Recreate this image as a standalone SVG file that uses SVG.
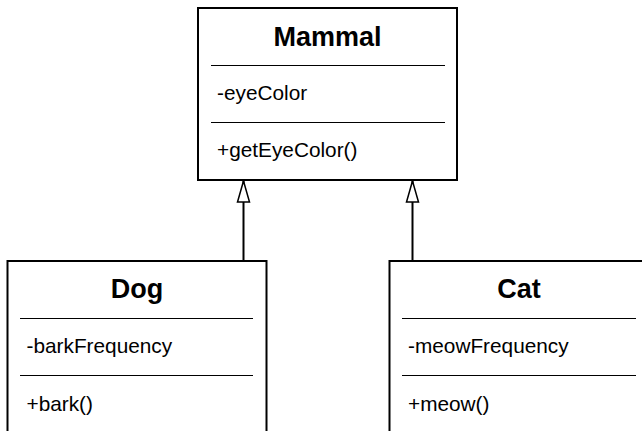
<svg xmlns="http://www.w3.org/2000/svg" width="642" height="431" viewBox="0 0 642 431">
  <style>
    .box { fill: #ffffff; stroke: #000000; stroke-width: 2; }
    .sep { stroke: #000000; stroke-width: 1; }
    .title { font-family: "Liberation Sans", Arial, sans-serif; font-size: 27px; font-weight: bold; fill: #000000; text-anchor: middle; }
    .member { font-family: "Liberation Sans", Arial, sans-serif; font-size: 20.8px; fill: #000000; }
    .edge { stroke: #000000; stroke-width: 2; fill: none; }
  </style>
  <defs>
    <marker id="inherit" markerUnits="userSpaceOnUse" viewBox="-23 -8 25 16" refX="0" refY="0" markerWidth="25" markerHeight="16" orient="auto">
      <path d="M0,0 L-21,-6 L-21,6 Z" fill="#ffffff" stroke="#000000" stroke-width="1.5" stroke-linejoin="miter"/>
    </marker>
  </defs>
  <rect width="642" height="431" fill="#ffffff"/>

  <g id="connectors">
    <line class="edge" x1="243.5" y1="261" x2="243.5" y2="181" marker-end="url(#inherit)"/>
    <line class="edge" x1="412.5" y1="261" x2="412.5" y2="181" marker-end="url(#inherit)"/>
  </g>

  <g id="Mammal">
    <rect class="box" x="198" y="8" width="259" height="172"/>
    <text class="title" x="327.5" y="46">Mammal</text>
    <line class="sep" x1="211" y1="65.5" x2="445" y2="65.5"/>
    <text class="member" x="217" y="100">-eyeColor</text>
    <line class="sep" x1="211" y1="122.5" x2="445" y2="122.5"/>
    <text class="member" x="217" y="157">+getEyeColor()</text>
  </g>

  <g id="Dog">
    <rect class="box" x="7.5" y="261" width="259" height="200"/>
    <text class="title" x="137" y="297.5">Dog</text>
    <line class="sep" x1="20" y1="318.5" x2="253" y2="318.5"/>
    <text class="member" x="26.5" y="353">-barkFrequency</text>
    <line class="sep" x1="20" y1="375.5" x2="253" y2="375.5"/>
    <text class="member" x="26.5" y="410.5">+bark()</text>
  </g>

  <g id="Cat">
    <rect class="box" x="389.5" y="261" width="259" height="200"/>
    <text class="title" x="519" y="297.5">Cat</text>
    <line class="sep" x1="402" y1="318.5" x2="636" y2="318.5"/>
    <text class="member" x="408" y="353">-meowFrequency</text>
    <line class="sep" x1="402" y1="375.5" x2="636" y2="375.5"/>
    <text class="member" x="408" y="410.5">+meow()</text>
  </g>
</svg>
